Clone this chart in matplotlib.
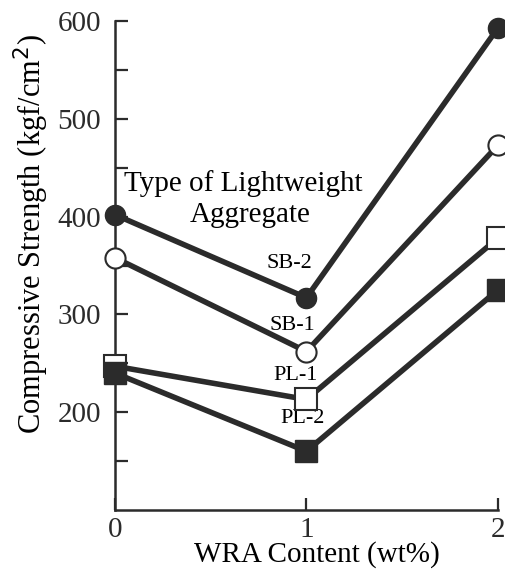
import matplotlib
matplotlib.use("Agg")
import matplotlib.pyplot as plt

# WRA content (wt%)
wra = [0, 1, 2]

# compressive strength (kgf/cm2) per lightweight aggregate type
sb2 = [402, 317, 593]
sb1 = [358, 262, 473]
pl1 = [247, 213, 378]
pl2 = [240, 160, 325]

plt.rcParams["font.family"] = ["Liberation Serif", "DejaVu Serif"]

fig = plt.figure(figsize=(5.06, 5.71), dpi=100)
ax = fig.add_axes([0.227, 0.107, 0.757, 0.856])

lc = "#2b2b2b"
lw = 4
ax.plot(wra, pl1, color=lc, lw=lw, marker="s", ms=16, mfc="white", mec=lc, mew=1.5, zorder=3)
ax.plot(wra, pl2, color=lc, lw=lw, marker="s", ms=16.5, mfc=lc, mec=lc, zorder=4)
ax.plot(wra, sb1, color=lc, lw=lw, marker="o", ms=14.5, mfc="white", mec=lc, mew=1.5, zorder=3)
ax.plot(wra, sb2, color=lc, lw=lw, marker="o", ms=14.5, mfc=lc, mec=lc, zorder=3)

ax.text(0.05, 434, "Type of Lightweight", fontsize=21, ha="left", va="center", zorder=2)
ax.text(0.705, 402, "Aggregate", fontsize=21, ha="center", va="center", zorder=2)
ax.text(1.03, 352, "SB-2", fontsize=16, ha="right", va="center", zorder=2)
ax.text(1.045, 289, "SB-1", fontsize=16, ha="right", va="center", zorder=2)
ax.text(1.06, 238, "PL-1", fontsize=16, ha="right", va="center", zorder=2)
ax.text(1.095, 194, "PL-2", fontsize=16, ha="right", va="center", zorder=2)

ax.set_xlim(0, 2)
ax.set_ylim(100, 600)
ax.set_xticks([0, 1, 2])
ax.set_yticks([200, 300, 400, 500, 600])
ax.set_yticks([150, 250, 350, 450, 550], minor=True)
ax.tick_params(axis="both", direction="in", length=9, width=1.6, labelsize=21, colors=lc)
ax.tick_params(axis="y", which="minor", direction="in", length=9, width=1.6, colors=lc)
ax.tick_params(axis="y", pad=10)
ax.tick_params(axis="x", pad=5)

for s in ["top", "right"]:
    ax.spines[s].set_visible(False)
for s in ["left", "bottom"]:
    ax.spines[s].set_linewidth(1.8)
    ax.spines[s].set_color(lc)

ax.set_xlabel("WRA Content (wt%)", fontsize=21)
ax.xaxis.set_label_coords(0.527, -0.064)
ax.set_ylabel("Compressive Strength (kgf/cm$^2$)", fontsize=22)
ax.yaxis.set_label_coords(-0.168, 0.564)
for m in ax.lines:
    m.set_clip_on(False)

fig.savefig("out.png", dpi=100)
